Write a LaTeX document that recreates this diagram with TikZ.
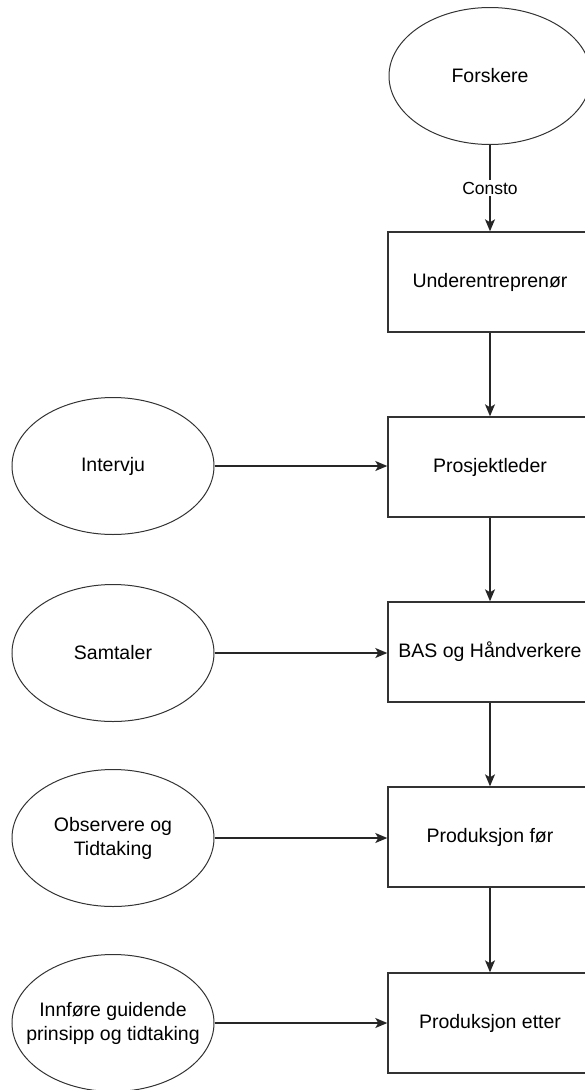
\documentclass[tikz,border=0pt]{standalone}
\usepackage{fontspec}
\setmainfont{Liberation Sans}
\usetikzlibrary{arrows.meta,shapes.geometric}
\begin{document}
\begin{tikzpicture}[x=1pt,y=-1pt,
  oval/.style={ellipse,draw=black!80,line width=1pt,minimum width=202pt,minimum height=137pt,
    inner sep=-30pt,align=center,font=\fontsize{19.5}{24}\selectfont},
  stage/.style={rectangle,draw=black!80,line width=1.4pt,minimum width=204pt,minimum height=100pt,
    inner sep=0pt,align=center,font=\fontsize{19.5}{24}\selectfont},
  flow/.style={draw=black!85,line width=1.3pt,-{Stealth[length=12pt,width=10pt,inset=3pt]}},
  tag/.style={fill=white,inner sep=2pt,font=\fontsize{17.5}{20}\selectfont}]
\useasboundingbox (0,0) rectangle (585,1090);
\clip (0,0) rectangle (585,1090);

% researcher ellipse and the chain of stages
\node[oval] (forskere) at (490,76) {Forskere};
\node[stage] (under) at (490,282) {Underentreprenør};
\node[stage] (pl) at (490,467) {Prosjektleder};
\node[stage] (bas) at (490,652) {BAS og Håndverkere};
\node[stage] (pfor) at (490,837) {Produksjon før};
\node[stage] (petter) at (490,1023) {Produksjon etter};

% methods on the left
\node[oval] (intervju) at (113,466) {Intervju};
\node[oval] (samtaler) at (113,653) {Samtaler};
\node[oval] (obs) at (113,838) {Observere og\\Tidtaking};
\node[oval] (innf) at (113,1023) {Innføre guidende\\prinsipp og tidtaking};

% vertical flow
\draw[flow] (forskere) -- node[tag] {Consto} (under);
\draw[flow] (under) -- (pl);
\draw[flow] (pl) -- (bas);
\draw[flow] (bas) -- (pfor);
\draw[flow] (pfor) -- (petter);

% horizontal inputs
\draw[flow] (intervju) -- (pl.west |- intervju);
\draw[flow] (samtaler) -- (bas.west |- samtaler);
\draw[flow] (obs) -- (pfor.west |- obs);
\draw[flow] (innf) -- (petter.west |- innf);
\end{tikzpicture}
\end{document}
